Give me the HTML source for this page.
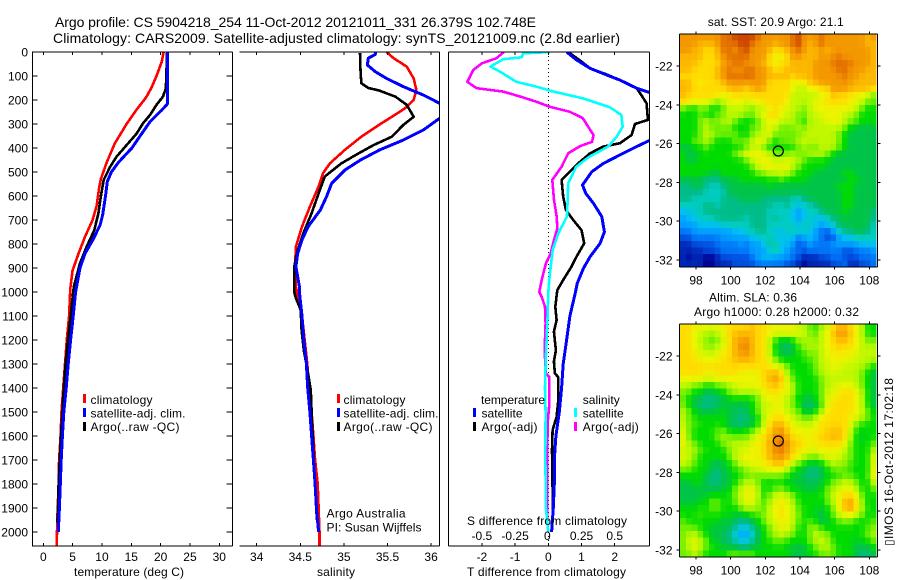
<!DOCTYPE html>
<html><head><meta charset="utf-8"><title>Argo profile</title>
<style>
html,body{margin:0;padding:0;background:#fff;width:900px;height:580px;overflow:hidden}
svg{display:block}
text{font-family:"Liberation Sans",sans-serif;font-size:12px;fill:#000}
.t{font-size:14px}
</style></head>
<body>
<svg id="chart" xmlns="http://www.w3.org/2000/svg" width="900" height="580" viewBox="0 0 900 580">
<defs>
<clipPath id="clip-temp"><rect x="32.5" y="52" width="199.5" height="494"/></clipPath>
<clipPath id="clip-sal"><rect x="239.5" y="52" width="200" height="494"/></clipPath>
<clipPath id="clip-diff"><rect x="448.5" y="52" width="201" height="494"/></clipPath>
</defs>
<text class="t" x="55" y="27" textLength="481" lengthAdjust="spacing">Argo profile: CS 5904218_254 11-Oct-2012 20121011_331 26.379S 102.748E</text>
<text class="t" x="53" y="43" textLength="567" lengthAdjust="spacing">Climatology: CARS2009. Satellite-adjusted climatology: synTS_20121009.nc (2.8d earlier)</text>

<g id="p1"></g>
<g id="p2"></g>
<g id="p3"></g>
<g id="m1"></g>
<g id="m2"></g>

<text x="74" y="576" textLength="110" lengthAdjust="spacing">temperature (deg C)</text>
<text x="317" y="576" textLength="38" lengthAdjust="spacing">salinity</text>
<text x="467" y="576" textLength="159" lengthAdjust="spacing">T difference from climatology</text>
<text x="467" y="525" textLength="160" lengthAdjust="spacing">S difference from climatology</text>

<g>
<rect x="83" y="394" width="3" height="9" fill="#f00"/>
<rect x="83" y="408" width="3" height="9" fill="#00f"/>
<rect x="83" y="422" width="3" height="9" fill="#000"/>
<text x="90.5" y="404" textLength="62" lengthAdjust="spacing">climatology</text>
<text x="90.5" y="417.500" textLength="95" lengthAdjust="spacing">satellite-adj. clim.</text>
<text x="90.5" y="431" textLength="89" lengthAdjust="spacing">Argo(..raw -QC)</text>
</g>
<g>
<rect x="337" y="394" width="3" height="9" fill="#f00"/>
<rect x="337" y="408" width="3" height="9" fill="#00f"/>
<rect x="337" y="422" width="3" height="9" fill="#000"/>
<text x="343.500" y="404" textLength="62" lengthAdjust="spacing">climatology</text>
<text x="343.500" y="417.500" textLength="95" lengthAdjust="spacing">satellite-adj. clim.</text>
<text x="343.500" y="431" textLength="89" lengthAdjust="spacing">Argo(..raw -QC)</text>
</g>
<text x="326.500" y="517.500" textLength="79" lengthAdjust="spacing">Argo Australia</text>
<text x="326.500" y="531.500" textLength="95" lengthAdjust="spacing">PI: Susan Wijffels</text>

<g>
<text x="481" y="404" textLength="64" lengthAdjust="spacing">temperature</text>
<text x="481.500" y="417.500" textLength="41" lengthAdjust="spacing">satellite</text>
<text x="481.500" y="431" textLength="56" lengthAdjust="spacing">Argo(-adj)</text>
<rect x="473" y="408" width="3" height="9" fill="#00f"/>
<rect x="473" y="422" width="3" height="9" fill="#000"/>
<text x="582.700" y="404" textLength="37" lengthAdjust="spacing">salinity</text>
<text x="582.700" y="417.500" textLength="41" lengthAdjust="spacing">satellite</text>
<text x="582.700" y="431" textLength="56" lengthAdjust="spacing">Argo(-adj)</text>
<rect x="574" y="408" width="3" height="9" fill="#0ff"/>
<rect x="574" y="422" width="3" height="9" fill="#f0f"/>
</g>

<text x="707.700" y="26" textLength="136" lengthAdjust="spacing">sat. SST: 20.9 Argo: 21.1</text>
<text x="709" y="301.500" textLength="88" lengthAdjust="spacing">Altim. SLA: 0.36</text>
<text x="694" y="316" textLength="165" lengthAdjust="spacing">Argo h1000: 0.28 h2000: 0.32</text>
<text transform="translate(893 546) rotate(-90)" x="0" y="0" textLength="168" lengthAdjust="spacing">▯IMOS 16-Oct-2012 17:02:18</text>
</svg>

<script>
// ---------- Profile data (depth in m, values in axis units) ----------
const tempClimDepth = [0,40,100,150,190,240,300,380,460,530,570,640,700,770,840,910,985,1100,1200,1300,1400,1500,1600,1700,1800,1900,2000,2060];
const tempClimValues = [20.5,20.2,19.3,18.4,17.5,15.9,14.2,12.2,10.8,9.8,9.5,9.1,8.4,7.1,6,5,4.6,4.4,4,3.7,3.4,3.1,2.95,2.7,2.6,2.45,2.33,2.3];
const tempSatDepth = [0,200,215,242,290,350,400,460,500,540,600,680,720,780,840,900,1000,1100,1200,1300,1400,1500,1600,1700,1800,1900,2000];
const tempSatValues = [21.2,21.2,21.2,20.2,18.2,16.5,15.1,12.8,11.6,10.9,10.6,10.1,9.7,8.5,7.1,6.25,5.5,5.1,4.65,4.25,3.9,3.5,3.25,3.05,2.9,2.75,2.55];
const tempArgoDepth = [0,150,186,220,262,297,340,388,436,478,533,603,672,742,811,880,978,1100,1200,1300,1400,1500,1600,1700,1800,1900,1960];
const tempArgoValues = [21.1,20.9,20.4,19.3,18.2,17,15.9,14.2,12.5,11.4,10.3,9.8,9.4,8.7,7.4,6.25,5.2,4.65,4.2,3.8,3.5,3.25,3,2.8,2.6,2.5,2.4];

const salClimDepth = [0,26,61,110,158,200,235,270,304,353,408,464,505,561,644,728,811,894,978,1100,1200,1300,1400,1500,1600,1700,1800,1900,2000,2060];
const salClimValues = [35.49,35.57,35.72,35.8,35.83,35.8,35.7,35.55,35.4,35.2,35.01,34.84,34.76,34.71,34.61,34.52,34.45,34.44,34.45,34.52,34.55,34.58,34.6,34.63,34.65,34.67,34.7,34.71,34.72,34.72];
const salSatDepth = [0,10,26,54,82,110,144,179,214,245,276,325,367,408,450,492,547,603,658,728,783,839,894,978,1000,1100,1200,1300,1400,1500,1600,1700,1800,1900,2000];
const salSatValues = [35.36,35.36,35.28,35.27,35.36,35.49,35.68,35.91,36.1,36.4,36.1,35.91,35.68,35.41,35.19,35.01,34.86,34.8,34.73,34.59,34.52,34.47,34.45,34.49,34.49,34.52,34.54,34.57,34.585,34.61,34.63,34.65,34.67,34.685,34.71];
const salArgoDepth = [5,75,130,150,160,186,220,270,304,353,388,422,464,519,589,672,755,825,894,978,1000,1026,1075,1160,1243,1340,1410,1550,1660,1785,1950];
const salArgoValues = [35.185,35.19,35.2,35.28,35.4,35.59,35.72,35.8,35.68,35.55,35.34,35.17,34.97,34.78,34.71,34.63,34.535,34.47,34.43,34.43,34.43,34.45,34.505,34.515,34.54,34.59,34.62,34.635,34.65,34.665,34.69];

const dTSatDepth = [0,33,68,96,117,151,170,270,367,394,436,464,499,554,589,631,686,749,797,853,901,964,1000,1100,1200,1300,1400,1500,1600,1700,1800,1900,2000];
const dTSatValues = [0.55,0.85,1.26,1.76,2.16,2.66,3.07,5,3.07,2.66,2.06,1.66,1.31,1.03,1.13,1.36,1.61,1.69,1.56,1.26,1.06,0.87,0.82,0.65,0.55,0.45,0.4,0.33,0.23,0.18,0.18,0.15,0.1];
const dTArgoDepth = [0,40,68,96,124,151,179,214,283,300,346,380,394,422,464,506,533,603,658,700,742,797,853,894,950,992,1061,1117,1165,1242,1290,1339,1355,1450,1520,1575,1658,1825,1960];
const dTArgoValues = [0.6,1,1.26,1.8,2.26,2.66,2.8,2.96,3,2.61,2.51,2.16,1.66,1.26,0.9,0.6,0.4,0.45,0.53,0.75,1,1.08,0.85,0.7,0.45,0.27,0.21,0.25,0.17,0.23,0.17,0.2,0.3,0.3,0.25,0.13,0.11,0.13,0.13];
const dSSatDepth = [0,6,22,30,61,82,124,144,165,193,231,262,311,353,394,436,478,547,617,686,756,825,922,1000,1100,1300,1400,1500,1700,1900,2000];
const dSSatValues = [0.013,-0.19,-0.2,-0.34,-0.435,-0.364,-0.24,-0.09,0.04,0.26,0.465,0.55,0.56,0.515,0.45,0.31,0.21,0.15,0.146,0.14,0.075,0.033,0.012,0,-0.005,-0.02,-0.025,-0.02,-0.022,-0.018,0];
const dSArgoDepth = [0,26,47,75,124,151,165,186,207,228,249,276,311,346,374,392,422,478,533,617,686,735,783,839,881,950,1000,1020,1061,1130,1242,1339,1355,1464,1547,1714,1964];
const dSArgoValues = [-0.334,-0.39,-0.5,-0.565,-0.61,-0.54,-0.34,-0.21,-0.09,0.01,0.163,0.26,0.3,0.34,0.33,0.24,0.15,0.1,0.03,0.043,0.063,0.068,0.043,0.018,-0.018,-0.05,-0.068,-0.05,-0.025,-0.02,-0.028,-0.018,0.008,0.008,-0.005,-0.008,-0.008];

// ---------- Tick labels ----------
const depthTicks = [0,100,200,300,400,500,600,700,800,900,1000,1100,1200,1300,1400,1500,1600,1700,1800,1900,2000];
const tempTicks = [0,5,10,15,20,25,30];
const salTicks = [34,34.5,35,35.5,36];
const dTTicks = [-2,-1,0,1,2];
const dSTicks = [-0.5,-0.25,0,0.25,0.5];
const lonTicks = [98,100,102,104,106,108];
const latTicks = [-22,-24,-26,-28,-30,-32];

// ---------- Map positions / grids (colour-level per cell, top row first) ----------
const argoLon = 102.748;
const argoLat = -26.379;
const gridLonStart = 97.08;
const gridLatStart = -20.35;
const gridStep = 1/3;
const sstGrid = [
[15,15,15,15,15,15,15,16,16,17,17,17,17,16,15,15,15,15,15,16,17,15,15,15,16,15,15,15,15,15,15,15,14,15],
[15,15,15,14,14,14,15,16,16,16,17,17,16,15,15,15,14,15,15,16,17,15,14,15,16,15,15,15,15,15,15,15,14,14],
[15,15,14,14,13,13,14,16,16,15,16,17,15,15,15,14,13,13,14,15,16,15,14,14,15,14,15,15,15,15,15,15,15,14],
[14,14,14,14,13,13,14,15,16,16,16,16,15,15,15,13,12,12,13,15,15,14,14,14,15,15,15,16,15,15,15,15,15,14],
[14,14,14,13,13,13,13,15,15,16,16,15,15,15,14,13,12,13,13,14,14,14,14,15,15,15,16,16,16,16,15,15,15,14],
[14,14,13,13,13,13,14,15,16,15,15,16,16,15,15,14,13,13,14,14,14,14,14,15,15,15,15,16,16,15,15,15,14,14],
[13,13,13,13,13,13,14,15,16,16,16,16,16,15,15,14,14,14,14,13,14,14,14,15,15,15,15,15,16,15,15,14,14,14],
[14,14,13,12,13,13,13,14,15,15,15,15,15,15,15,13,13,13,13,12,12,12,14,14,15,15,15,15,15,15,14,14,14,14],
[14,14,13,13,13,13,13,13,14,14,14,13,14,15,14,13,13,13,13,12,11,11,12,12,13,13,15,15,15,14,14,14,14,13],
[14,13,13,13,13,13,13,12,12,13,13,13,13,13,13,13,13,13,13,11,11,11,11,11,12,12,14,13,13,13,12,12,11,10],
[13,13,12,12,12,11,10,11,12,12,12,11,12,12,13,13,13,13,12,11,11,11,11,12,12,13,13,13,13,12,12,11,10,10],
[10,9,9,10,10,9,9,10,11,11,11,11,10,11,11,12,13,12,12,11,11,10,11,12,12,12,12,12,12,12,11,10,9,9],
[9,9,9,10,9,9,10,10,11,11,11,10,10,11,12,13,13,12,11,11,10,10,11,11,12,12,12,12,11,11,10,9,9,9],
[9,9,9,10,11,10,10,11,11,10,9,9,9,10,11,12,12,11,11,11,10,9,11,11,11,12,12,12,11,10,10,9,9,9],
[9,9,9,10,11,10,10,10,10,9,9,9,10,10,11,12,11,10,10,10,11,10,11,11,11,11,11,11,10,9,8,8,8,8],
[9,9,9,10,11,11,10,10,10,10,9,9,10,11,11,12,10,10,10,10,10,11,11,11,11,11,11,10,9,8,8,8,8,8],
[9,9,10,10,11,10,9,9,9,10,10,10,11,12,12,10,9,10,10,10,11,11,11,11,11,11,11,10,9,8,8,8,8,8],
[8,8,9,9,10,9,9,9,9,9,9,10,11,11,10,9,9,9,9,9,10,11,10,10,11,11,11,10,9,8,8,8,8,8],
[9,8,8,9,9,9,9,9,9,10,11,12,12,12,12,11,10,10,10,11,10,10,11,11,11,10,9,8,8,8,8,8,8,8],
[9,8,8,9,9,9,9,9,9,9,9,10,11,12,12,12,11,11,12,11,11,10,9,9,9,9,8,8,8,8,8,8,8,8],
[9,9,9,9,9,9,9,9,9,9,9,9,10,11,12,12,12,12,12,11,10,9,9,9,9,8,8,8,8,8,8,8,8,8],
[9,9,9,9,9,8,8,9,9,9,9,9,9,10,10,11,11,11,11,10,9,9,9,8,8,8,8,8,9,9,8,8,8,8],
[8,8,8,8,7,7,7,8,8,8,9,9,9,9,9,9,9,10,9,9,9,9,8,8,8,8,8,8,8,9,9,8,8,8],
[7,7,8,8,7,6,6,7,8,8,8,8,8,8,8,9,8,8,8,8,8,8,8,8,8,8,8,9,9,9,8,8,8,8],
[7,7,7,7,6,6,6,6,8,8,8,8,8,8,8,8,8,8,8,8,8,8,8,8,8,8,8,8,9,9,8,8,8,8],
[7,7,6,6,6,6,6,7,7,7,8,8,8,8,7,7,7,7,7,6,6,7,8,8,8,8,8,8,9,9,8,8,8,8],
[6,6,6,6,7,7,6,7,7,7,7,7,7,7,7,7,6,6,7,6,5,6,6,7,8,8,8,8,9,9,8,8,8,8],
[5,5,6,6,7,7,7,7,7,7,7,7,7,7,7,6,6,6,6,5,4,5,6,6,7,8,8,8,9,8,8,8,8,7],
[4,5,5,6,6,6,7,7,7,7,7,6,7,7,7,6,7,6,6,5,4,5,6,5,5,6,7,8,8,8,8,8,8,7],
[4,4,4,5,5,5,5,6,6,6,6,6,7,7,7,6,6,6,6,6,5,6,6,5,4,5,6,7,8,8,8,8,8,6],
[3,3,4,4,4,4,4,4,4,5,5,6,6,7,7,6,5,5,6,6,6,6,5,4,3,2,4,6,7,7,8,8,7,6],
[2,2,3,3,3,3,3,4,4,4,4,4,5,5,6,6,6,5,5,5,3,4,5,4,3,2,2,4,5,5,6,6,6,6],
[1,1,2,2,2,2,3,3,3,3,4,3,4,4,5,7,6,5,5,4,2,3,4,3,3,3,4,4,4,4,4,5,5,5],
[1,1,1,1,2,2,2,3,3,3,3,3,4,4,4,5,7,5,4,3,3,2,3,3,3,3,3,3,2,2,3,3,3,4],
[1,0,1,1,0,0,1,2,2,2,2,2,3,4,5,5,4,4,4,3,2,1,1,1,2,2,3,3,2,2,2,3,3,3],
[1,1,1,1,0,0,1,1,1,2,2,2,2,3,3,3,3,3,2,2,1,0,1,1,1,1,2,2,3,1,1,2,2,3]
];
const slaGrid = [
[13,13,12,12,12,12,12,12,13,13,13,13,14,13,13,12,12,12,12,12,11,11,10,9,11,11,13,14,14,13,12,11,9,9],
[13,13,12,11,11,10,11,12,13,14,14,14,14,13,13,12,12,12,12,12,12,11,10,10,11,12,14,15,15,14,12,11,9,9],
[13,13,12,11,10,10,10,11,13,14,15,15,14,13,13,11,9,8,8,9,10,11,11,10,11,12,13,14,14,13,12,11,10,10],
[13,13,12,11,11,10,11,12,13,14,15,16,14,13,13,11,9,8,7,8,10,10,11,11,11,12,13,13,13,13,12,11,11,11],
[13,13,12,12,11,11,12,12,13,14,15,15,14,13,13,11,9,8,8,8,9,10,10,10,11,12,12,13,12,12,12,11,11,11],
[13,13,13,12,12,12,12,13,13,14,14,14,14,13,13,12,10,9,9,9,9,9,10,10,11,12,12,12,12,12,11,11,11,11],
[13,13,13,13,13,13,13,13,13,13,13,13,13,13,13,12,12,11,10,9,9,9,9,10,11,11,12,12,11,11,11,11,10,9],
[13,13,13,13,12,12,13,13,13,13,12,12,12,12,13,14,14,13,11,9,9,9,9,10,11,11,12,11,11,11,11,10,9,8],
[12,12,12,12,12,12,12,12,12,12,12,12,12,12,13,14,15,14,11,10,9,9,9,9,10,11,11,11,11,11,11,10,9,8],
[11,11,10,10,9,9,10,10,11,11,12,12,12,12,13,13,14,13,12,11,9,9,9,9,10,11,11,12,12,12,11,10,9,8],
[10,10,9,9,8,8,9,9,10,11,11,11,11,11,12,13,13,12,12,11,9,9,9,9,10,11,12,12,13,13,12,11,9,8],
[10,9,8,8,7,7,7,8,9,9,9,9,9,10,12,12,12,12,11,10,9,8,8,9,10,12,12,13,13,13,12,11,9,8],
[10,9,8,7,7,7,8,8,8,8,8,8,9,10,11,11,12,12,11,10,9,8,7,8,9,12,13,13,13,13,12,11,9,8],
[11,10,9,8,8,8,8,9,8,8,7,8,9,10,11,12,12,12,11,11,10,8,8,9,11,12,13,13,13,13,12,11,10,9],
[11,10,9,9,9,9,9,9,8,8,7,7,8,9,11,12,13,13,12,11,11,10,10,11,12,13,13,13,13,12,12,11,10,9],
[11,10,10,9,9,9,9,9,8,7,7,8,8,9,11,13,14,14,13,12,11,11,11,12,13,13,13,13,13,12,10,9,9,9],
[12,10,9,9,9,9,10,10,9,9,9,9,10,11,12,13,15,15,14,12,12,12,12,12,13,13,14,14,13,11,9,9,9,9],
[12,10,9,9,9,9,10,11,10,10,10,10,11,12,13,14,15,16,14,13,13,12,12,13,13,14,14,14,13,11,9,8,9,9],
[12,11,10,9,9,9,9,10,11,11,11,11,12,12,13,14,16,16,15,14,13,13,12,12,13,13,13,13,12,10,9,9,9,10],
[11,11,11,10,9,9,9,9,10,11,11,12,12,12,13,14,15,16,15,13,13,12,12,12,12,12,12,12,11,10,9,9,9,11],
[12,11,10,9,9,9,9,9,10,11,12,12,12,12,13,14,15,15,14,13,12,11,10,10,11,12,12,11,11,10,9,9,9,12],
[11,11,10,9,9,8,8,8,9,10,11,12,12,12,12,13,14,14,13,11,10,9,9,8,9,10,11,11,10,10,9,9,9,12],
[10,10,9,9,9,8,7,8,9,9,10,10,11,11,12,12,12,12,11,9,9,8,7,7,8,9,10,10,10,9,9,9,9,12],
[9,9,9,9,8,7,7,8,8,9,9,10,10,10,10,10,10,10,9,9,8,8,7,7,8,9,9,9,10,10,9,9,9,13],
[8,8,9,9,8,7,7,8,8,9,10,11,11,10,9,9,9,9,9,8,8,8,8,8,8,9,10,11,11,11,10,9,9,11],
[8,8,8,8,8,8,8,8,9,10,11,12,12,11,9,9,10,10,9,9,9,8,8,8,9,10,11,11,12,12,11,9,9,10],
[8,8,8,8,8,9,9,9,9,10,11,12,12,11,9,10,11,12,11,10,9,9,9,9,9,10,11,12,13,13,12,10,9,9],
[8,8,8,9,9,10,10,9,9,10,11,12,12,11,9,11,12,12,12,11,9,9,9,9,9,10,11,12,14,15,13,10,9,9],
[9,9,9,9,9,10,10,9,9,9,10,11,11,10,10,11,12,13,12,11,10,9,9,9,8,9,10,12,14,15,13,11,9,9],
[9,9,9,10,9,9,9,9,9,8,8,9,9,10,10,11,12,13,12,11,10,9,9,8,8,9,10,11,12,12,11,10,9,9],
[10,9,9,9,9,9,9,8,8,8,7,7,8,9,10,11,12,12,12,11,10,9,10,9,8,8,9,10,10,10,9,9,9,10],
[10,10,10,9,9,8,8,8,8,7,5,5,7,8,9,10,11,12,12,11,9,9,10,11,9,9,9,9,9,9,9,9,10,10],
[10,11,11,10,9,8,8,8,7,5,4,4,5,8,9,10,11,11,11,10,9,9,10,11,11,10,9,9,9,9,9,9,10,11],
[10,11,12,11,10,9,8,8,7,7,5,5,7,8,9,9,10,10,9,9,9,9,10,11,11,11,9,9,9,9,8,9,9,10],
[10,11,12,11,10,9,9,8,8,8,7,7,8,8,9,9,9,9,9,8,8,8,9,10,11,11,10,9,9,9,8,8,8,9],
[10,10,11,10,9,9,9,9,10,10,10,10,10,9,9,9,9,9,9,8,8,8,9,9,10,10,10,9,9,9,8,7,7,8]
];
const mapColours = ['#000090','#0028b8','#0050e0','#0078f8','#00a0ff','#00c0f0','#00ccc0','#00bc88','#00c448','#00dc00','#70f000','#c0f800','#ecf400','#ffdc00','#fcb800','#f49800','#e47000','#cc4400'];

// ---------- Axis functions ----------
const yDepth = d => 52 + 0.24 * d;
const xTemp = v => 43.3 + 5.867 * v;
const xSal = v => 256.7 + 87.2 * (v - 34);
const xDT = v => 548.3 + 33.2 * v;
const xDS = v => 548.3 + 132.8 * v;
const lonX = lon => 696 + 17.33 * (lon - 98);
const latY = (lat, top) => top + 32 + 19.4 * (-22 - lat);

const NS = 'http://www.w3.org/2000/svg';
function mk(parent, tag, attrs, txt) {
  const el = document.createElementNS(NS, tag);
  for (const k in attrs) el.setAttribute(k, attrs[k]);
  if (txt !== undefined) el.textContent = txt;
  parent.appendChild(el);
  return el;
}
function hLine(parent, x1, x2, y) {
  const el = mk(parent, 'rect', {x: x1, y: y - 0.5, width: x2 - x1, height: 1, fill: '#000'});
  
  
}
function vLine(parent, x, y1, y2) {
  const el = mk(parent, 'rect', {x: x - 0.5, y: y1, width: 1, height: y2 - y1, fill: '#000'});
  
  
}
function tick(parent, x1, y1, x2, y2) {
  const el = mk(parent, 'line', {x1: x1, y1: y1, x2: x2, y2: y2, stroke: '#000', 'stroke-width': 1, 'shape-rendering': 'crispEdges'});
  
  
}
function label(parent, x, y, anchor, s) {
  const el = mk(parent, 'text', {x: x, y: y, 'text-anchor': anchor}, s);
  
  
}
function series(parent, name, xf, depth, values, colour, clip, w) {
  const pts = depth.map((d, i) => xf(values[i]).toFixed(1) + ',' + yDepth(d).toFixed(1)).join(' ');
  const el = mk(parent, 'polyline', {points: pts, fill: 'none', stroke: colour, 'stroke-width': w, 'stroke-linejoin': 'round', 'clip-path': 'url(#' + clip + ')', 'shape-rendering': 'crispEdges'});
  
  
}
const top0 = 52, bot0 = 546;

// ---------- Temperature panel ----------
const p1 = document.getElementById('p1');
series(p1, 'temperature-climatology-line', xTemp, tempClimDepth, tempClimValues, '#f00', 'clip-temp', 2.6);
series(p1, 'temperature-argo-line', xTemp, tempArgoDepth, tempArgoValues, '#000', 'clip-temp', 2.6);
series(p1, 'temperature-satellite-line', xTemp, tempSatDepth, tempSatValues, '#00f', 'clip-temp', 3);
hLine(p1, 32, 232.5, top0); hLine(p1, 32, 232.5, bot0);
vLine(p1, 32.5, top0, bot0); vLine(p1, 232.5, top0, bot0);
depthTicks.forEach(d => {
  tick(p1, 32.5, yDepth(d), 37.5, yDepth(d));
  tick(p1, 232.5, yDepth(d), 226.5, yDepth(d));
  label(p1, 28, yDepth(d) + 4.5, 'end', String(d));
});
tempTicks.forEach(v => {
  tick(p1, xTemp(v), top0, xTemp(v), top0 + 3);
  tick(p1, xTemp(v), bot0, xTemp(v), bot0 - 3);
  label(p1, xTemp(v), 561, 'middle', String(v));
});

// ---------- Salinity panel ----------
const p2 = document.getElementById('p2');
series(p2, 'salinity-climatology-line', xSal, salClimDepth, salClimValues, '#f00', 'clip-sal', 2.6);
series(p2, 'salinity-argo-line', xSal, salArgoDepth, salArgoValues, '#000', 'clip-sal', 2.6);
series(p2, 'salinity-satellite-line', xSal, salSatDepth, salSatValues, '#00f', 'clip-sal', 3);
hLine(p2, 239.5, 439.5, top0); hLine(p2, 239.5, 439.5, bot0);
vLine(p2, 439.5, top0, bot0);
salTicks.forEach(v => {
  tick(p2, xSal(v), top0, xSal(v), top0 + 3);
  tick(p2, xSal(v), bot0, xSal(v), bot0 - 3);
  label(p2, xSal(v), 561, 'middle', String(v));
});

// ---------- Difference panel ----------
const p3 = document.getElementById('p3');
const zero = mk(p3, 'line', {x1: xDT(0), y1: top0, x2: xDT(0), y2: bot0, stroke: '#000', 'stroke-width': 1, 'stroke-dasharray': '1 3', 'shape-rendering': 'crispEdges'});


series(p3, 's-difference-argo-line', xDS, dSArgoDepth, dSArgoValues, '#f0f', 'clip-diff', 2.6);
series(p3, 't-difference-argo-line', xDT, dTArgoDepth, dTArgoValues, '#000', 'clip-diff', 2.6);
series(p3, 't-difference-satellite-line', xDT, dTSatDepth, dTSatValues, '#00f', 'clip-diff', 3);
series(p3, 's-difference-satellite-line', xDS, dSSatDepth, dSSatValues, '#0ff', 'clip-diff', 2.6);
hLine(p3, 448.5, 649.5, top0); hLine(p3, 448.5, 649.5, bot0);
vLine(p3, 448.5, top0, bot0); vLine(p3, 649.5, top0, bot0);
dTTicks.forEach(v => {
  tick(p3, xDT(v), top0, xDT(v), top0 + 3);
  tick(p3, xDT(v), bot0, xDT(v), bot0 - 3);
  label(p3, xDT(v), 561, 'middle', String(v));
});
dSTicks.forEach(v => {
  label(p3, xDS(v) - (v === 0 ? 1 : 0), 540, 'middle', String(v));
});

// ---------- Maps ----------
const parseHex = h => [1, 3, 5].map(i => parseInt(h.substr(i, 2), 16));
function levelColour(level) {
  const l = Math.max(0, Math.min(mapColours.length - 1, level));
  const i = Math.min(mapColours.length - 2, Math.floor(l));
  const f = l - i;
  const a = parseHex(mapColours[i]), b = parseHex(mapColours[i + 1]);
  return 'rgb(' + a.map((v, k) => Math.round(v + (b[k] - v) * f)).join(',') + ')';
}
// The source field varies smoothly from cell to cell; soften whole-level steps with the four neighbours.
function softened(grid, r, c, centreWeight) {
  const at = (rr, cc) => (grid[rr] && grid[rr][cc] !== undefined) ? grid[rr][cc] : grid[r][c];
  return (centreWeight * grid[r][c] + at(r - 1, c) + at(r + 1, c) + at(r, c - 1) + at(r, c + 1)) / (centreWeight + 4);
}
function drawMap(id, cellName, grid, top, centreWeight) {
  const g = document.getElementById(id);
  grid.forEach((row, r) => {
    const y0 = latY(gridLatStart - r * gridStep, top);
    const y1 = latY(gridLatStart - (r + 1) * gridStep, top);
    row.forEach((level, c) => {
      const x0 = lonX(gridLonStart + c * gridStep);
      const x1 = lonX(gridLonStart + (c + 1) * gridStep);
      const cell = mk(g, 'rect', {x: x0.toFixed(2), y: y0.toFixed(2), width: (x1 - x0).toFixed(2), height: (y1 - y0).toFixed(2), fill: levelColour(softened(grid, r, c, centreWeight)), 'shape-rendering': 'crispEdges'});
      
      
    });
  });
  const left = 679.5, right = 877.5, bottom = top + 233;
  hLine(g, left, right, top); hLine(g, left, right, bottom);
  vLine(g, left, top, bottom); vLine(g, right, top, bottom);
  lonTicks.forEach(v => {
    tick(g, lonX(v), top, lonX(v), top - 2.5);
    tick(g, lonX(v), bottom, lonX(v), bottom + 2.5);
    label(g, lonX(v), bottom + 17.500, 'middle', String(v));
  });
  latTicks.forEach(v => {
    tick(g, left, latY(v, top), left - 3, latY(v, top));
    tick(g, right, latY(v, top), right + 3, latY(v, top));
    label(g, 672.5, latY(v, top) + 4.5, 'end', String(v));
  });
  const ring = mk(g, 'circle', {cx: lonX(argoLon).toFixed(1), cy: latY(argoLat, top).toFixed(1), r: 5, fill: 'none', stroke: '#000', 'stroke-width': 1.2});
  
  
}
drawMap('m1', 'sst-cell', sstGrid, 34, 4);
drawMap('m2', 'sla-cell', slaGrid, 324, 2);
</script>
</body></html>
